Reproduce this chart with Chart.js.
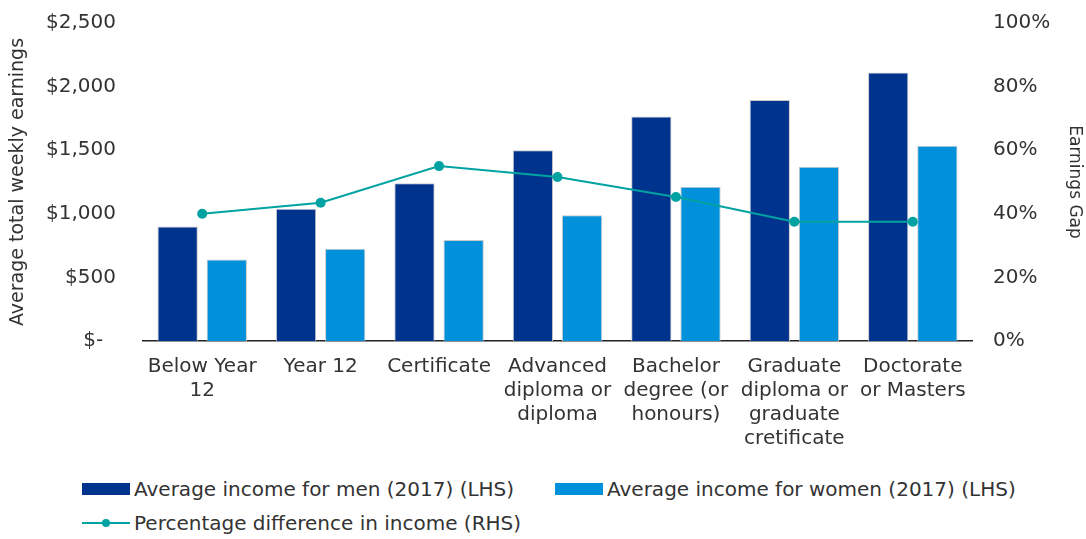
<!DOCTYPE html>
<html lang="en">
<head>
    <meta charset="UTF-8">
    <title>Average weekly earnings by education</title>
    <script src="https://cdn.jsdelivr.net/npm/chart.js"></script>
    <style>
        body {
            margin: 0;
            background: #fff;
            font-family: 'DejaVu Sans', sans-serif;
        }
        #wrap {
            position: relative;
            width: 1086px;
            height: 539px;
        }
        #chartBox {
            position: absolute;
            left: 0;
            top: 0;
            width: 1086px;
            height: 470px;
        }
        .leg {
            position: absolute;
            display: flex;
            align-items: center;
            font-size: 20px;
            color: #333;
            white-space: nowrap;
        }
        .sw {
            width: 48px;
            height: 12px;
            margin-right: 4px;
        }
        .ln {
            position: relative;
            width: 48px;
            height: 12px;
            margin-right: 4px;
        }
        .ln:before {
            content: "";
            position: absolute;
            left: 0; right: 0; top: 5px;
            height: 2px;
            background: #00A3A1;
        }
        .ln:after {
            content: "";
            position: absolute;
            left: 20px; top: 2px;
            width: 8px; height: 8px;
            border-radius: 50%;
            background: #00A3A1;
        }
    </style>
</head>
<body>
<div id="wrap">
    <div id="chartBox"><canvas id="earningsChart"></canvas></div>
    <div class="leg" style="left:82px; top:477px;"><span class="sw" style="background:#00338D"></span><span id="leg0"></span></div>
    <div class="leg" style="left:555px; top:477px;"><span class="sw" style="background:#0091DA"></span><span id="leg1"></span></div>
    <div class="leg" style="left:82px; top:511px;"><span class="ln"></span><span id="leg2"></span></div>
</div>

<script>
    const categories = [
        ["Below Year", "12"],
        ["Year 12"],
        ["Certificate"],
        ["Advanced", "diploma or", "diploma"],
        ["Bachelor", "degree (or", "honours)"],
        ["Graduate", "diploma or", "graduate", "cretificate"],
        ["Doctorate", "or Masters"]
    ];
    const menIncome = [900, 1040, 1240, 1500, 1765, 1895, 2110];
    const womenIncome = [640, 725, 795, 988, 1213, 1370, 1535];
    const gapPct = [40.0, 43.5, 55.0, 51.6, 45.3, 37.5, 37.5];

    const seriesNames = [
        "Average income for men (2017) (LHS)",
        "Average income for women (2017) (LHS)",
        "Percentage difference in income (RHS)"
    ];
    const leftTicks = [0, 500, 1000, 1500, 2000, 2500];
    const rightTicks = [0, 20, 40, 60, 80, 100];

    seriesNames.forEach((n, i) => { document.getElementById("leg" + i).textContent = n; });

    const txt = "#333";
    const fnt = { family: "'DejaVu Sans', sans-serif", size: 20 };

    // fixed widths + no label overflow padding so the plot area lands where it should
    function fixV(w) {
        return s => { s.width = w; s.paddingTop = 0; s.paddingBottom = 0; };
    }

    const ctx = document.getElementById("earningsChart").getContext("2d");
    new Chart(ctx, {
        data: {
            labels: categories,
            datasets: [
                {
                    type: "line",
                    label: seriesNames[2],
                    data: gapPct,
                    yAxisID: "y1",
                    borderColor: "#00A3A1",
                    backgroundColor: "#00A3A1",
                    borderWidth: 2,
                    pointRadius: 5,
                    pointBorderWidth: 0,
                    tension: 0,
                    order: 0
                },
                {
                    type: "bar",
                    label: seriesNames[0],
                    data: menIncome,
                    yAxisID: "y",
                    backgroundColor: "#00338D",
                    borderColor: "#c9c9c9",
                    borderWidth: 1,
                    categoryPercentage: 0.83,
                    barPercentage: 0.82,
                    order: 1
                },
                {
                    type: "bar",
                    label: seriesNames[1],
                    data: womenIncome,
                    yAxisID: "y",
                    backgroundColor: "#0091DA",
                    borderColor: "#c9c9c9",
                    borderWidth: 1,
                    categoryPercentage: 0.83,
                    barPercentage: 0.82,
                    order: 1
                }
            ]
        },
        options: {
            responsive: true,
            maintainAspectRatio: false,
            animation: false,
            layout: { padding: { top: 23, left: 0, right: 0, bottom: 0 } },
            plugins: {
                legend: { display: false },
                tooltip: { enabled: false }
            },
            scales: {
                x: {
                    grid: { display: false, drawTicks: false },
                    border: { display: true, color: "#222", width: 1.5 },
                    ticks: { color: txt, font: { ...fnt, lineHeight: 1.2 }, padding: 14, maxRotation: 0, autoSkip: false },
                    afterFit: s => { s.height = 129; s.paddingLeft = 0; s.paddingRight = 0; }
                },
                y: {
                    position: "left",
                    min: 0,
                    max: 2500,
                    grid: { display: false, drawTicks: false },
                    border: { display: false },
                    afterBuildTicks: s => { s.ticks = leftTicks.map(v => ({ value: v })); },
                    ticks: {
                        color: txt,
                        font: fnt,
                        padding: 27,
                        callback: v => v === 0 ? "$-  " : "$" + v.toLocaleString("en-US")
                    },
                    title: {
                        display: true,
                        text: "Average total weekly earnings",
                        color: txt,
                        font: { ...fnt, size: 19 },
                        padding: { top: 7, bottom: 0 }
                    },
                    afterFit: fixV(143)
                },
                y1: {
                    position: "right",
                    min: 0,
                    max: 100,
                    grid: { display: false, drawTicks: false },
                    border: { display: false },
                    afterBuildTicks: s => { s.ticks = rightTicks.map(v => ({ value: v })); },
                    ticks: {
                        color: txt,
                        font: fnt,
                        padding: 21,
                        callback: v => v + "%"
                    },
                    title: {
                        display: true,
                        text: "Earnings Gap",
                        color: txt,
                        font: { ...fnt, size: 17 },
                        padding: { top: 1, bottom: 0 }
                    },
                    afterFit: fixV(114)
                }
            }
        }
    });
</script>
</body>
</html>
